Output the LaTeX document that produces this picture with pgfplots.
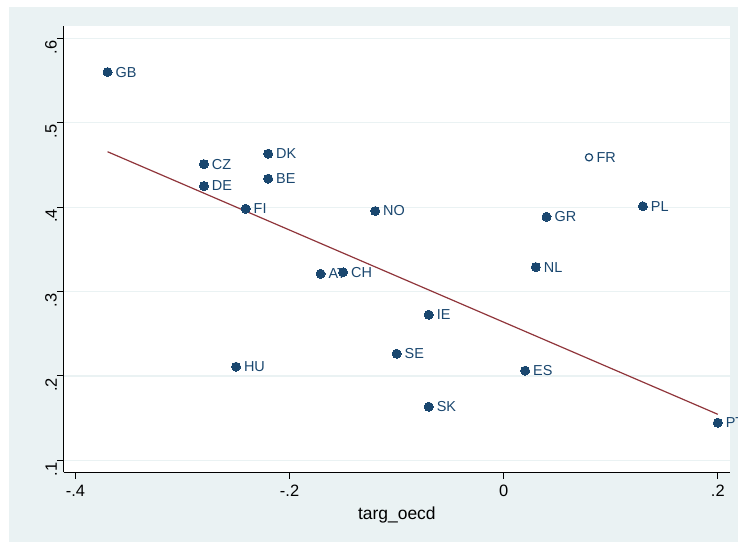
\documentclass[border=0pt]{standalone}
\usepackage{fontspec}
\setmainfont{Liberation Sans}
\usepackage{pgfplots}
\pgfplotsset{compat=1.18}
\definecolor{stnavy}{RGB}{26,71,111}
\definecolor{stmaroon}{RGB}{144,53,59}
\definecolor{stbg}{RGB}{234,242,243}
\begin{document}
\begin{tikzpicture}[x=1bp,y=1bp]
\useasboundingbox (0,0) rectangle (738,542);
\fill[white] (0,0) rectangle (738,542);
\fill[stbg] (9,0) rectangle (738,535);
\begin{axis}[
  at={(63.7bp,69.7bp)}, anchor=south west,
  scale only axis, width=666.3bp, height=446.3bp,
  xmin=-0.411, xmax=0.2114, ymin=0.0858, ymax=0.6146,
  axis x line*=bottom, axis y line*=left,
  axis line style={-, black, line width=0.9bp},
  axis background/.style={fill=white},
  xtick={-0.4,-0.2,0,0.2}, xticklabels={-.4,-.2,0,.2},
  ytick={0.1,0.2,0.3,0.4,0.5,0.6}, yticklabels={.1,.2,.3,.4,.5,.6},
  ymajorgrids, grid style={stbg, line width=1.2bp},
  tick align=outside, major tick length=6.7bp,
  tick style={black, line width=0.9bp},
  xticklabel style={font=\fontsize{16.5}{16.5}\selectfont, inner sep=0pt, yshift=-6bp},
  yticklabel style={rotate=90, anchor=south, font=\fontsize{16.5}{16.5}\selectfont, inner sep=0pt, xshift=-9bp},
  xlabel={targ\_oecd},
  xlabel style={font=\fontsize{17.5}{17.5}\selectfont, inner sep=0pt, yshift=-10bp},
  clip=false,
]
\addplot[stmaroon, line width=1.2bp, no markers] coordinates {(-0.37,0.4656) (0.2,0.1545)};
\addplot[only marks, mark=*, mark size=4.5bp, mark options={fill=stnavy, draw=stnavy, line width=0pt},
  point meta=explicit symbolic,
  nodes near coords,
  nodes near coords style={anchor=west, inner sep=0pt, xshift=8bp, text=stnavy, font=\fontsize{14.5}{14.5}\selectfont},
] table[meta=lab] {
x y lab
-0.37 0.560 GB
-0.28 0.451 CZ
-0.28 0.425 DE
-0.22 0.4633 DK
-0.22 0.4337 BE
-0.241 0.398 FI
-0.120 0.3954 NO
-0.171 0.321 AT
-0.150 0.3228 CH
-0.070 0.2725 IE
-0.100 0.2263 SE
0.020 0.2062 ES
-0.070 0.1635 SK
0.200 0.1446 PT
-0.250 0.2109 HU
0.040 0.3886 GR
0.130 0.401 PL
0.030 0.329 NL
};
\addplot[only marks, mark=o, mark size=3.6bp, mark options={draw=stnavy, line width=1.2bp},
  point meta=explicit symbolic,
  nodes near coords,
  nodes near coords style={anchor=west, inner sep=0pt, xshift=7bp, text=stnavy, font=\fontsize{14.5}{14.5}\selectfont},
] table[meta=lab] {
x y lab
0.0797 0.459 FR
};
\end{axis}
\end{tikzpicture}
\end{document}
